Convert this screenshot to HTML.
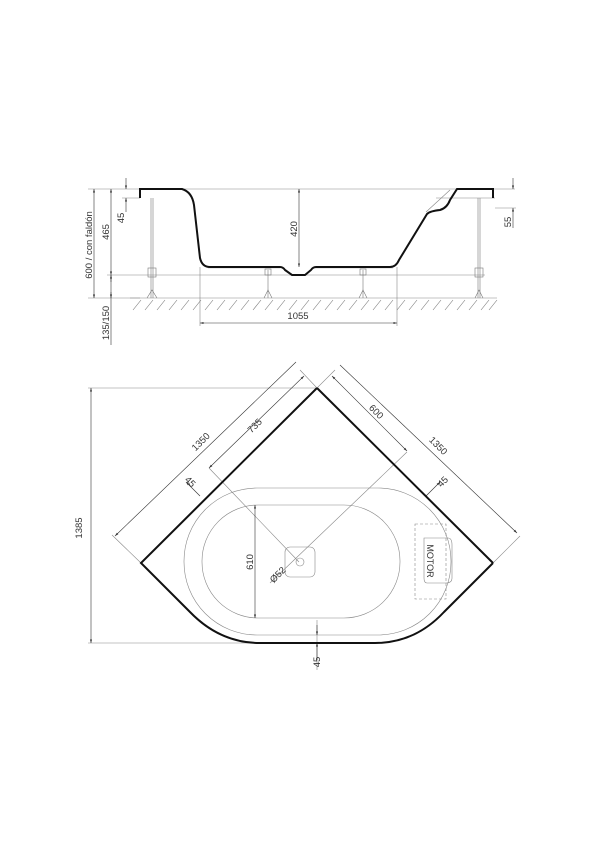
<!DOCTYPE html>
<html><head><meta charset="utf-8"><style>html,body{margin:0;background:#fff}svg{display:block}</style></head><body>
<svg width="600" height="849" viewBox="0 0 600 849" xmlns="http://www.w3.org/2000/svg" font-family="Liberation Sans, sans-serif" font-size="9.5" fill="#333">
<defs><marker id="a" viewBox="0 0 10 10" refX="10" refY="5" markerWidth="6" markerHeight="6" orient="auto-start-reverse"><path d="M0,2 L10,5 L0,8z" fill="#333"/></marker></defs>
<g stroke="#888" stroke-width="0.6" fill="none">
<!-- top view ext/frame lines -->
<line x1="88" y1="189" x2="515" y2="189"/>
<line x1="107" y1="275" x2="485" y2="275"/>
<line x1="88" y1="298" x2="140" y2="298"/>
<line x1="130" y1="298" x2="497" y2="298"/>
<line x1="122" y1="198" x2="140" y2="198"/>
<line x1="495" y1="208" x2="516" y2="208"/>
<line x1="200" y1="267" x2="200" y2="326"/>
<line x1="397" y1="267" x2="397" y2="326"/>
<line x1="426" y1="212" x2="450" y2="190"/>
<line x1="436" y1="198" x2="495" y2="198"/>
<!-- legs -->
<g stroke="#777"><line x1="151" y1="198" x2="151" y2="298"/><line x1="153" y1="198" x2="153" y2="298"/><line x1="478" y1="198" x2="478" y2="298"/><line x1="480" y1="198" x2="480" y2="298"/>
<line x1="268" y1="270" x2="268" y2="298"/><line x1="363" y1="270" x2="363" y2="298"/>
<rect x="148" y="268" width="8" height="9"/><rect x="475" y="268" width="8" height="9"/><rect x="265" y="269" width="6" height="6"/><rect x="360" y="269" width="6" height="6"/>
<path d="M147 298 L152 290 L157 298 M264 298 L268 290 L272 298 M359 298 L363 290 L367 298 M475 298 L479 290 L483 298"/></g>
<path d="M208 268 L280 268 M312 268 L393 268" stroke="#aaa"/>
</g>
<!-- hatching -->
<g stroke="#777" stroke-width="0.6">
<path d="M133 310 L141 300 M145 310 L153 300 M157 310 L165 300 M169 310 L177 300 M181 310 L189 300 M193 310 L201 300 M205 310 L213 300 M217 310 L225 300 M229 310 L237 300 M241 310 L249 300 M253 310 L261 300 M265 310 L273 300 M277 310 L285 300 M289 310 L297 300 M301 310 L309 300 M313 310 L321 300 M325 310 L333 300 M337 310 L345 300 M349 310 L357 300 M361 310 L369 300 M373 310 L381 300 M385 310 L393 300 M397 310 L405 300 M409 310 L417 300 M421 310 L429 300 M433 310 L441 300 M445 310 L453 300 M457 310 L465 300 M469 310 L477 300 M481 310 L489 300 M489 310 L497 300"/>
</g>
<!-- bath section -->
<path d="M140 198 L140 189 L182 189 Q192 192 194 205 L200 258 Q202 267 210 267 L280 267 Q283 267 285 270 L292 275 L305 275 L311 270 Q313 267 316 267 L390 267 Q396 267 399 260 L427 214 Q430 211 440 210 Q447 208 450 200 L457 189 L493 189 L493 198" fill="none" stroke="#111" stroke-width="2"/>
<!-- top dims -->
<g stroke="#333" stroke-width="0.6" fill="none">
<line x1="94" y1="189" x2="94" y2="298" marker-start="url(#a)" marker-end="url(#a)"/>
<line x1="111" y1="189" x2="111" y2="275" marker-start="url(#a)" marker-end="url(#a)"/>
<line x1="111" y1="275" x2="111" y2="345"/>
<line x1="111" y1="282" x2="111" y2="275" marker-end="url(#a)"/>
<line x1="111" y1="292" x2="111" y2="298" marker-end="url(#a)"/>
<line x1="126" y1="178" x2="126" y2="189" marker-end="url(#a)"/>
<line x1="126" y1="212" x2="126" y2="198" marker-end="url(#a)"/>
<line x1="513" y1="178" x2="513" y2="189" marker-end="url(#a)"/>
<line x1="513" y1="228" x2="513" y2="208" marker-end="url(#a)"/>
<line x1="299" y1="189" x2="299" y2="267" marker-start="url(#a)" marker-end="url(#a)"/>
<line x1="200" y1="323" x2="397" y2="323" marker-start="url(#a)" marker-end="url(#a)"/>
</g>
<text transform="translate(92,245) rotate(-90)" text-anchor="middle">600 / con faldón</text>
<text transform="translate(109,232) rotate(-90)" text-anchor="middle">465</text>
<text transform="translate(124,218) rotate(-90)" text-anchor="middle">45</text>
<text transform="translate(109,323) rotate(-90)" text-anchor="middle">135/150</text>
<text transform="translate(511,222) rotate(-90)" text-anchor="middle">55</text>
<text transform="translate(297,229) rotate(-90)" text-anchor="middle">420</text>
<text x="298" y="319" text-anchor="middle">1055</text>
<!-- plan view -->
<g stroke="#888" stroke-width="0.6" fill="none">
<rect x="184" y="488" width="267" height="147" rx="73"/>
<rect x="202" y="505" width="198" height="113" rx="56"/>
<rect x="285" y="547" width="30" height="30" rx="5"/>
<circle cx="300" cy="562" r="4"/>
<rect x="415" y="524" width="31" height="75" stroke-dasharray="3,2"/>
<path d="M424 538 L448 538 Q452 538 452 545 L452 578 Q452 583 446 583 L427 583 Q424 583 424 578z"/>
<line x1="88" y1="388" x2="317" y2="388"/>
<line x1="88" y1="643" x2="317" y2="643"/>
<line x1="141" y1="563" x2="112" y2="535"/>
<line x1="317" y1="388" x2="300" y2="370"/>
<line x1="317" y1="388" x2="335" y2="370"/>
<line x1="493" y1="563" x2="520" y2="536"/>
<line x1="209" y1="468" x2="299" y2="562"/>
<line x1="270" y1="583" x2="407" y2="452"/>
<line x1="317" y1="620" x2="317" y2="670"/>
</g>
<g stroke="#333" stroke-width="0.6" fill="none">
<line x1="91" y1="388" x2="91" y2="643" marker-start="url(#a)" marker-end="url(#a)"/>
<line x1="115" y1="536" x2="296" y2="362" marker-start="url(#a)"/>
<line x1="209" y1="468" x2="304" y2="376" marker-start="url(#a)" marker-end="url(#a)"/>
<line x1="332" y1="376" x2="407" y2="451" marker-start="url(#a)" marker-end="url(#a)"/>
<line x1="340" y1="365" x2="517" y2="533" marker-end="url(#a)"/>
<line x1="186" y1="482" x2="200" y2="496" marker-start="url(#a)"/>
<line x1="440" y1="482" x2="426" y2="496" marker-start="url(#a)"/>
<line x1="255" y1="505" x2="255" y2="618" marker-start="url(#a)" marker-end="url(#a)"/>
<line x1="317" y1="625" x2="317" y2="635" marker-end="url(#a)"/>
<line x1="317" y1="660" x2="317" y2="643" marker-end="url(#a)"/>
</g>
<path d="M317 388 L493 563 M317 388 L141 563 L190 612 Q220 643 260 643 L375 643 Q415 643 444 612 L493 563" fill="none" stroke="#111" stroke-width="2"/>
<text transform="translate(82,528) rotate(-90)" text-anchor="middle">1385</text>
<text transform="translate(203,444) rotate(-45)" text-anchor="middle">1350</text>
<text transform="translate(257,428) rotate(-45)" text-anchor="middle">735</text>
<text transform="translate(374,414) rotate(45)" text-anchor="middle">600</text>
<text transform="translate(436,448) rotate(45)" text-anchor="middle">1350</text>
<text transform="translate(188,484) rotate(45)" text-anchor="middle">45</text>
<text transform="translate(445,484) rotate(-45)" text-anchor="middle">45</text>
<text transform="translate(253,562) rotate(-90)" text-anchor="middle">610</text>
<text transform="translate(280,577) rotate(-45)" text-anchor="middle">Ø52</text>
<text transform="translate(427,561) rotate(90)" text-anchor="middle" font-size="9">MOTOR</text>
<text transform="translate(320,662) rotate(-90)" text-anchor="middle">45</text>
</svg>
</body></html>
